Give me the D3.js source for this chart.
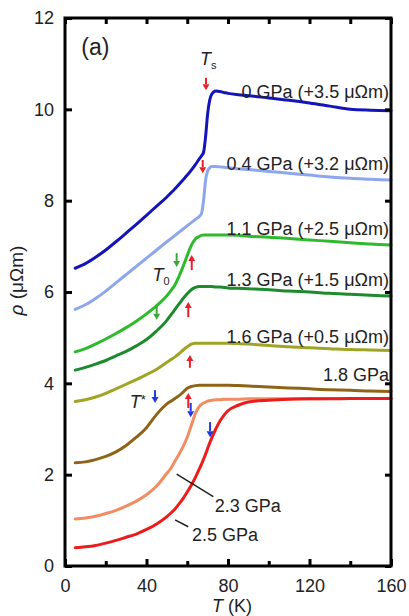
<!DOCTYPE html>
<html><head><meta charset="utf-8">
<script src="https://cdn.jsdelivr.net/npm/d3@7"></script>
<style>
html,body{margin:0;padding:0;background:#fff;}
svg text{font-family:"Liberation Sans",Arial,Helvetica,sans-serif;}
</style></head>
<body><svg id="c" width="409" height="616"></svg>
<script>
// Temperature grid (K)
const temps = [5,10,15,20,25,30,35,40,45,50,52,54,56,58,60,62,64,66,67,68,69,70,71,72,74,76,78,80,85,90,100,110,120,130,140,150,160];
// Resistivity (μΩm, including offsets) for each pressure
const p0   = [6.52,6.62,6.76,6.92,7.10,7.29,7.48,7.68,7.88,8.08,8.17,8.26,8.36,8.46,8.56,8.67,8.79,8.92,8.98,9.06,9.40,9.90,10.20,10.33,10.40,10.39,10.37,10.35,10.32,10.30,10.25,10.20,10.14,10.07,10.00,9.98,9.97];
const p04  = [5.62,5.72,5.86,6.02,6.20,6.38,6.56,6.74,6.92,7.10,7.17,7.24,7.31,7.38,7.45,7.52,7.59,7.66,7.72,8.00,8.45,8.65,8.72,8.75,8.75,8.74,8.73,8.72,8.70,8.68,8.64,8.60,8.56,8.52,8.49,8.47,8.45];
const p11  = [4.69,4.76,4.86,4.97,5.09,5.22,5.36,5.52,5.70,5.92,6.03,6.16,6.35,6.56,6.80,7.02,7.16,7.22,7.24,7.25,7.25,7.25,7.25,7.25,7.25,7.25,7.25,7.25,7.24,7.22,7.20,7.17,7.14,7.11,7.08,7.05,7.03];
const p13  = [4.29,4.35,4.42,4.50,4.60,4.70,4.82,4.96,5.15,5.38,5.50,5.62,5.74,5.86,5.96,6.05,6.10,6.12,6.12,6.12,6.12,6.12,6.12,6.12,6.11,6.11,6.10,6.09,6.08,6.07,6.05,6.02,6.00,5.97,5.95,5.93,5.91];
const p16  = [3.60,3.64,3.70,3.78,3.88,3.98,4.08,4.19,4.31,4.46,4.52,4.58,4.65,4.73,4.80,4.86,4.88,4.88,4.88,4.88,4.88,4.88,4.88,4.88,4.88,4.88,4.88,4.88,4.87,4.86,4.83,4.80,4.78,4.76,4.74,4.73,4.72];
const p18  = [2.26,2.28,2.33,2.40,2.50,2.64,2.82,3.03,3.32,3.55,3.61,3.67,3.73,3.81,3.89,3.93,3.95,3.96,3.96,3.96,3.96,3.96,3.96,3.96,3.96,3.96,3.96,3.96,3.95,3.94,3.92,3.90,3.88,3.86,3.85,3.83,3.82];
const p23  = [1.03,1.05,1.09,1.15,1.22,1.31,1.42,1.56,1.75,2.03,2.14,2.30,2.45,2.62,2.82,3.08,3.34,3.50,3.54,3.57,3.59,3.61,3.62,3.63,3.64,3.64,3.65,3.65,3.65,3.66,3.66,3.66,3.66,3.67,3.67,3.67,3.67];
const p25  = [0.40,0.42,0.45,0.50,0.56,0.63,0.70,0.80,0.92,1.08,1.16,1.25,1.36,1.48,1.62,1.77,1.94,2.13,2.23,2.34,2.45,2.57,2.69,2.80,3.00,3.17,3.30,3.40,3.52,3.59,3.63,3.65,3.66,3.66,3.67,3.67,3.67];

const seriesValues = [p0,p04,p11,p13,p16,p18,p23,p25];
const seriesColors = ["#1414b8","#8ea6ee","#2dbb2d","#1d8a2d","#9fa424","#8f6418","#f28c62","#ec1c1c"];

// Curve labels
const labelText = ["0 GPa (+3.5 μΩm)","0.4 GPa (+3.2 μΩm)","1.1 GPa (+2.5 μΩm)","1.3 GPa (+1.5 μΩm)","1.6 GPa (+0.5 μΩm)","1.8 GPa"];
const labelV    = [10.25,8.68,7.24,6.14,4.89,4.05];

// Arrows: T position, tail value, tip value, colour
const arrowT    = [69.2,67.6,54.8,62.2,45.0,60.5,61.3,44.2,60.5,61.7,71.2];
const arrowFrom = [10.69,8.89,6.85,6.48,5.71,5.45,4.34,3.85,3.46,3.57,3.15];
const arrowTo   = [10.42,8.60,6.55,6.81,5.39,5.78,4.62,3.57,3.79,3.26,2.82];
const arrowCol  = ["#e8202a","#e8202a","#3aa83a","#e8202a","#3aa83a","#e8202a","#e8202a","#2038e0","#e8202a","#2038e0","#2038e0"];

const xTicks = [0,40,80,120,160];
const xMinor = [20,60,100,140];
const yTicks = [0,2,4,6,8,10,12];

const svg = d3.select("#c");
const L=65, R=391, T=18, B=566;
const x = d3.scaleLinear().domain([0,160]).range([L,R]);
const y = d3.scaleLinear().domain([0,12]).range([B,T]);

const line = d3.line().x((d,i)=>x(temps[i])).y(d=>y(d)).curve(d3.curveMonotoneX);

// curves
seriesValues.forEach((vals,k)=>{
  svg.append("path").attr("d",line(vals)).attr("fill","none")
    .attr("stroke",seriesColors[k]).attr("stroke-width",3)
    .attr("stroke-linejoin","round").attr("stroke-linecap","round");
});

// axes (ticks inward)
const fs = 18;
const gB = svg.append("g").attr("transform",`translate(0,${B})`)
  .call(d3.axisBottom(x).tickValues(xTicks).tickSize(-7).tickPadding(13).tickFormat(d3.format("d")));
const gBm = svg.append("g").attr("transform",`translate(0,${B})`)
  .call(d3.axisBottom(x).tickValues(xMinor).tickSize(-5).tickFormat(""));
const gT = svg.append("g").attr("transform",`translate(0,${T})`)
  .call(d3.axisTop(x).tickValues(xTicks.concat(xMinor)).tickSize(-6).tickFormat(""));
const gL = svg.append("g").attr("transform",`translate(${L},0)`)
  .call(d3.axisLeft(y).tickValues(yTicks).tickSize(-7).tickPadding(11).tickFormat(d3.format("d")));
const gR = svg.append("g").attr("transform",`translate(${R},0)`)
  .call(d3.axisRight(y).tickValues(yTicks).tickSize(-6).tickFormat(""));
[gB,gBm,gT,gL,gR].forEach(g=>{
  g.select(".domain").remove();
  g.selectAll(".tick line").attr("stroke","#000").attr("stroke-width",3);
  g.selectAll("text").attr("font-size",fs).attr("fill","#222");
});

// frame
svg.append("rect").attr("x",L).attr("y",T).attr("width",R-L).attr("height",B-T)
  .attr("fill","none").attr("stroke","#000").attr("stroke-width",3);

// axis titles
const xt = svg.append("text").attr("x",x(82)).attr("y",612).attr("text-anchor","middle")
  .attr("font-size",fs).attr("fill","#222");
xt.append("tspan").attr("font-style","italic").text("T");
xt.append("tspan").text(" (K)");
svg.append("text").attr("transform",`translate(23,${y(6.25)}) rotate(-90)`)
  .attr("text-anchor","middle").attr("font-size",19).attr("fill","#222")
  .call(t=>{t.append("tspan").attr("font-style","italic").text("ρ");t.append("tspan").text(" (μΩm)");});

// panel label
svg.append("text").attr("x",x(8)).attr("y",y(11.2)).attr("font-size",23).attr("fill","#222").text("(a)");

// curve labels
labelText.forEach((s,i)=>{
  svg.append("text").attr("x",x(159)).attr("y",y(labelV[i])).attr("text-anchor","end")
    .attr("font-size",fs).attr("fill","#222").text(s);
});
// 2.3 / 2.5 GPa labels with pointer lines
svg.append("text").attr("x",x(73.5)).attr("y",y(1.18)).attr("font-size",fs).attr("fill","#222").text("2.3 GPa");
svg.append("text").attr("x",x(62.3)).attr("y",y(0.55)).attr("font-size",fs).attr("fill","#222").text("2.5 GPa");
svg.append("line").attr("x1",x(54.8)).attr("y1",y(2.01)).attr("x2",x(72.8)).attr("y2",y(1.52)).attr("stroke","#222").attr("stroke-width",1.5);
svg.append("line").attr("x1",x(54)).attr("y1",y(1.01)).attr("x2",x(60.5)).attr("y2",y(0.86)).attr("stroke","#222").attr("stroke-width",1.5);

// T_s, T_0, T*
const ts = svg.append("text").attr("x",x(66.3)).attr("y",y(10.98)).attr("font-size",fs).attr("fill","#222");
ts.append("tspan").attr("font-style","italic").text("T");
ts.append("tspan").attr("font-size",11).attr("dy",4).text("s");
const t0 = svg.append("text").attr("x",x(43)).attr("y",y(6.24)).attr("font-size",fs).attr("fill","#222");
t0.append("tspan").attr("font-style","italic").text("T");
t0.append("tspan").attr("font-size",11).attr("dy",4).text("0");
const tst = svg.append("text").attr("x",x(31.8)).attr("y",y(3.45)).attr("font-size",fs).attr("fill","#222");
tst.append("tspan").attr("font-style","italic").text("T");
tst.append("tspan").attr("font-size",13).attr("dy",-4).text("*");

// arrows
arrowT.forEach((t,i)=>{
  const ax=x(t), y0=y(arrowFrom[i]), y1=y(arrowTo[i]);
  const dir = y1>y0?1:-1, head=6;
  svg.append("line").attr("x1",ax).attr("y1",y0).attr("x2",ax).attr("y2",y1-dir*head)
    .attr("stroke",arrowCol[i]).attr("stroke-width",2);
  svg.append("path").attr("d",`M${ax-3.5},${y1-dir*head}L${ax+3.5},${y1-dir*head}L${ax},${y1}Z`)
    .attr("fill",arrowCol[i]);
});
</script></body></html>
